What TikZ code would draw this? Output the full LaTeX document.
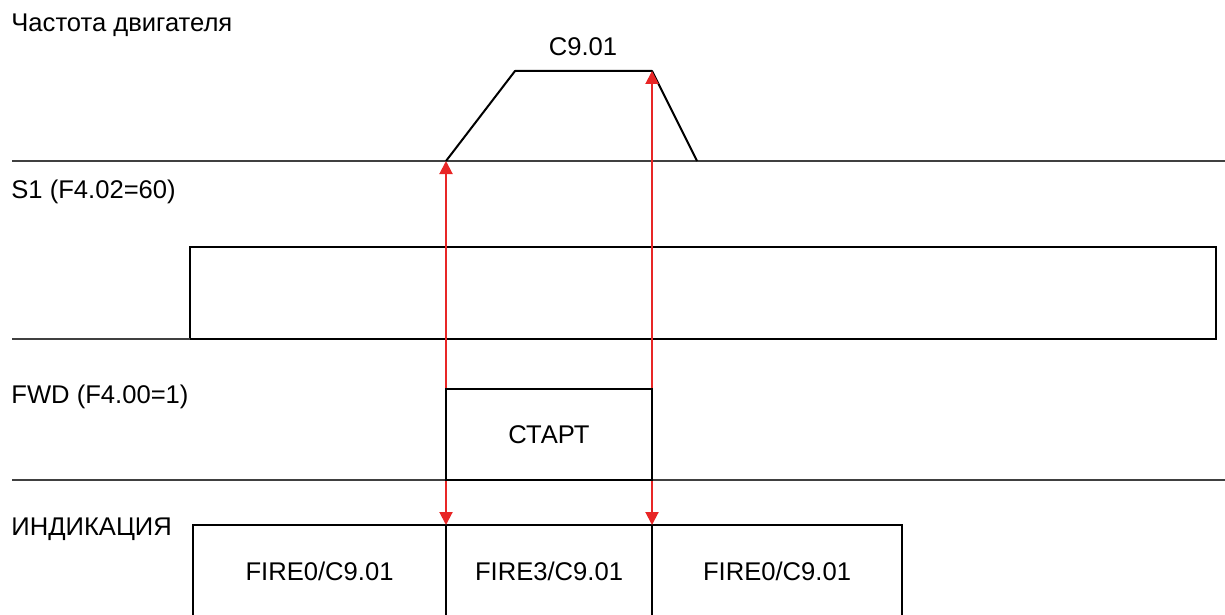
\documentclass[tikz,border=0pt]{standalone}
\usepackage{fontspec}
\setmainfont{Liberation Sans}
\usetikzlibrary{arrows.meta,positioning}
\definecolor{markred}{RGB}{232, 38, 38}

\begin{document}
\begin{tikzpicture}[
      x=0.5pt, y=-0.5pt,
      font=\fontsize{12.8}{15}\selectfont,
      lbl/.style={anchor=base west, inner sep=0pt},
      sigbox/.style={rectangle, draw=black, line width=1pt, inner sep=0pt, outer sep=0pt, anchor=north west},
      sigline/.style={black, line width=1pt, line join=round},
      sep/.style={black!75, line width=0.6pt},
      redarrow/.style={{Triangle[length=6.5pt,width=6.5pt]}-{Triangle[length=6.5pt,width=6.5pt]}, line width=1pt, markred}
    ]
      \useasboundingbox (0,0) rectangle (1225,615);
      \clip (0,0) rectangle (1225,615);

      % row labels
      \node[lbl] (l_freq) at (11,32) {Частота двигателя};
      \node[lbl] (l_s1) at (11,198) {S1 (F4.02=60)};
      \node[lbl] (l_fwd) at (11,403) {FWD (F4.00=1)};
      \node[lbl] (l_ind) at (11,535) {ИНДИКАЦИЯ};

      % separators between rows
      \draw[sep] (12,161) -- (1225,161);
      \draw[sep] (12,480) -- (1225,480);

      % motor frequency ramp
      \coordinate (f_up) at (446,161);
      \coordinate (f_top1) at (515,71);
      \coordinate (f_top2) at (652,71);
      \coordinate (f_down) at (697,161);
      \draw[sigline] (f_up) -- (f_top1) -- (f_top2) -- (f_down);
      \node[anchor=base] (f_val) at (583,56) {C9.01};

      % S1 input
      \node[sigbox, minimum width=513pt, minimum height=46pt] (s1_box) at (190,247) {};
      \draw[sep] (12,339) -- (s1_box.south west);

      % indication states
      \node[sigbox, minimum width=126.5pt, minimum height=46pt] (ind_a) at (193,525) {FIRE0/C9.01};
      \node[sigbox, minimum width=103pt, minimum height=46pt] (ind_b) at (446,525) {FIRE3/C9.01};
      \node[sigbox, minimum width=125pt, minimum height=46pt] (ind_c) at (652,525) {FIRE0/C9.01};

      \draw[redarrow] (f_up) -- (ind_b.north west);
      \draw[redarrow] (f_top2) -- (ind_b.north east);

      % FWD command
      \node[sigbox, minimum width=103pt, minimum height=45.5pt] (fwd_box) at (446,389) {СТАРТ};
\end{tikzpicture}
\end{document}
